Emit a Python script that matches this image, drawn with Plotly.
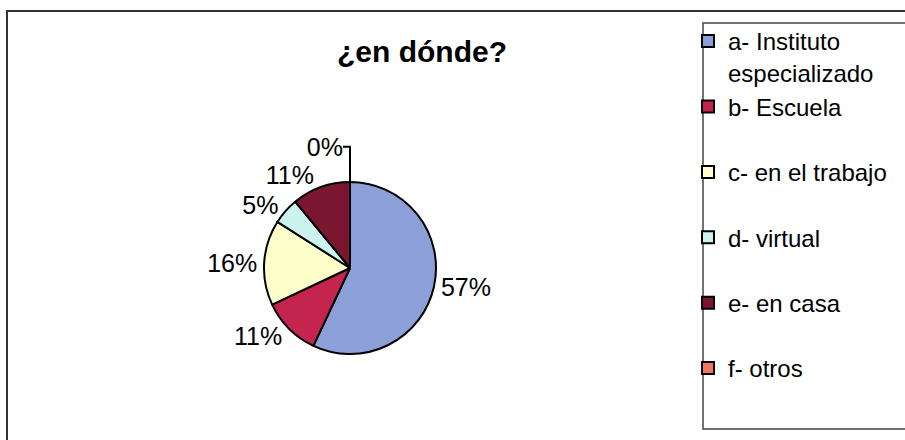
import plotly.graph_objects as go

W, H = 905, 440

labels = ["a- Instituto<br>especializado", "b- Escuela<br> ", "c- en el trabajo<br> ",
          "d- virtual<br> ", "e- en casa<br> ", "f- otros<br> "]
values = [57, 11, 16, 5, 11, 0]
colors = ["#8C9FD9", "#C4254E", "#FFFFCC", "#CCF3EE", "#7B1630", "#F07861"]
title_text = "¿en dónde?"

def px_x(x):
    return x / W

def px_y(y):
    return 1 - y / H

fig = go.Figure(go.Pie(
    labels=labels,
    values=values,
    sort=False,
    direction="clockwise",
    rotation=0,
    marker=dict(colors=colors, line=dict(color="black", width=2)),
    textinfo="percent",
    texttemplate="%{percent:.0%}",
    textposition="outside",
    textfont=dict(family="Liberation Sans, Arial", size=25, color="black"),
    domain=dict(x=[px_x(264), px_x(436)], y=[px_y(354), px_y(182)]),
    showlegend=True,
))

fig.update_layout(
    width=W, height=H,
    margin=dict(l=0, r=0, t=0, b=0),
    paper_bgcolor="white",
    plot_bgcolor="white",
    font=dict(family="Liberation Sans, Arial", color="black"),
    title=dict(text="<b>" + title_text + "</b>", x=px_x(422), xanchor="center",
               y=px_y(51), yanchor="middle",
               font=dict(size=30, family="Liberation Sans, Arial", color="black")),
    legend=dict(x=px_x(688), xanchor="left", y=px_y(19), yanchor="top",
                font=dict(size=24, family="Liberation Sans, Arial", color="black"),
                valign="top", bgcolor="rgba(0,0,0,0)", borderwidth=0,
                traceorder="normal"),
    shapes=[
        dict(type="rect", xref="paper", yref="paper",
             x0=px_x(7), x1=px_x(920), y0=px_y(460), y1=px_y(11),
             line=dict(color="#333333", width=2), fillcolor="rgba(0,0,0,0)", layer="below"),
        dict(type="rect", xref="paper", yref="paper",
             x0=px_x(703), x1=px_x(915), y0=px_y(429), y1=px_y(23),
             line=dict(color="#444444", width=1.5), fillcolor="rgba(0,0,0,0)", layer="below"),
    ],
)

fig.write_html("out.html")
